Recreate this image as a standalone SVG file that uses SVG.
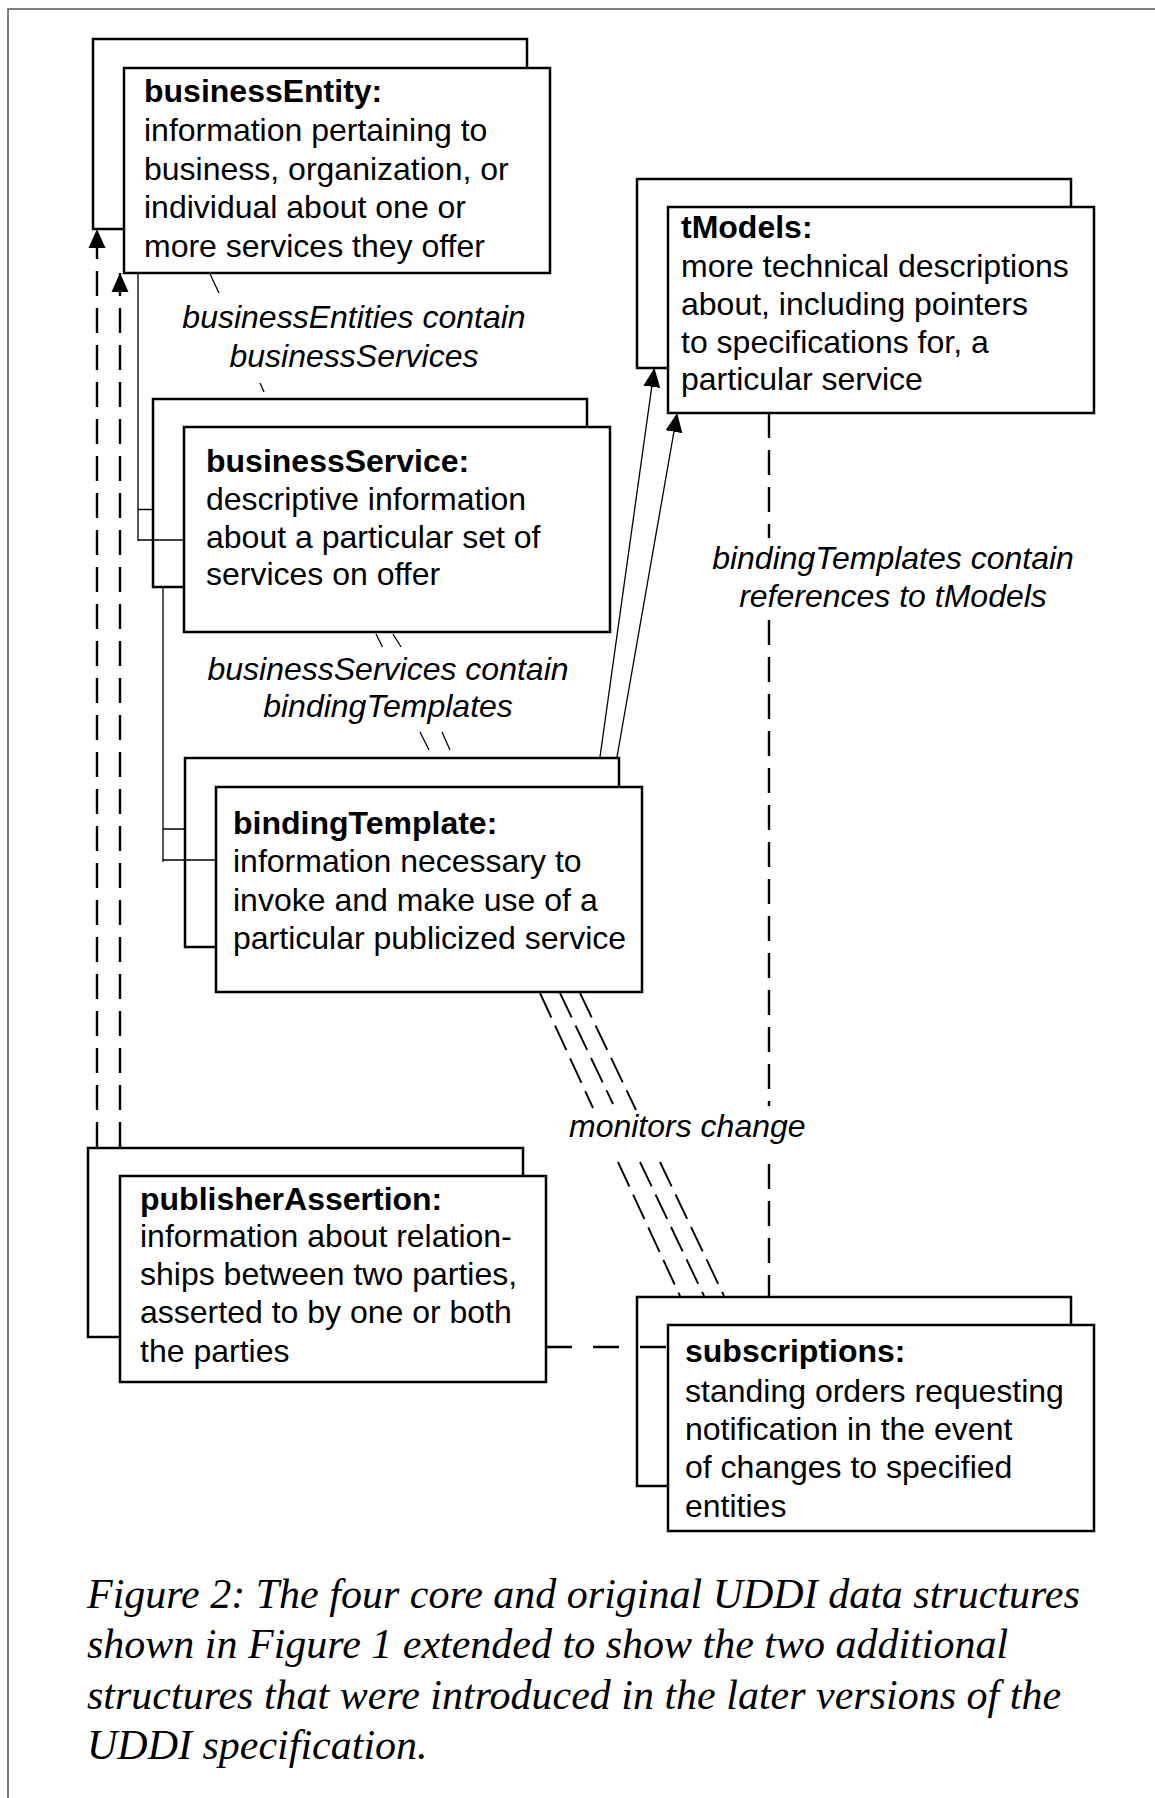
<svg xmlns="http://www.w3.org/2000/svg" width="1155" height="1798" viewBox="0 0 1155 1798">
<style>
.box{fill:#fff;stroke:#000;stroke-width:2.5}
.t{font-family:"Liberation Sans",Arial,sans-serif;font-size:32px;fill:#000}
.b{font-weight:bold}
.lbl{font-family:"Liberation Sans",Arial,sans-serif;font-size:32px;font-style:italic;fill:#000}
.cap{font-family:"Liberation Serif","Times New Roman",serif;font-size:42px;font-style:italic;fill:#000}
.thin{stroke:#000;stroke-width:1.3;fill:none}
.dash{stroke:#000;stroke-width:2.4;fill:none;stroke-dasharray:25 12}
.ddia{stroke:#000;stroke-width:1.9;fill:none;stroke-dasharray:27 9}
.dh{stroke:#000;stroke-width:2.4;fill:none;stroke-dasharray:26 21}
.frame{stroke:#555;stroke-width:1.5;fill:none}
</style>
<defs>
<marker id="arr" markerUnits="userSpaceOnUse" viewBox="0 -9 19 18" markerWidth="19" markerHeight="18" refX="19" refY="0" orient="auto">
<path d="M0,-8.5 L19,0 L0,8.5 z" fill="#000"/>
</marker>
</defs>
<rect width="1155" height="1798" fill="#fff"/>
<path class="frame" d="M8,1798 L8,9 L1155,9"/>

<g id="businessEntity">
<rect class="box" x="93" y="39" width="434" height="190"/>
<rect class="box" x="124" y="68" width="426" height="205"/>
<text class="t b" x="144" y="102">businessEntity:</text>
<text class="t" x="144" y="141">information pertaining to</text>
<text class="t" x="144" y="180">business, organization, or</text>
<text class="t" x="144" y="218">individual about one or</text>
<text class="t" x="144" y="257">more services they offer</text>
</g>

<g id="tModels">
<rect class="box" x="637" y="179" width="434" height="189"/>
<rect class="box" x="668" y="207" width="426" height="206"/>
<text class="t b" x="681" y="238">tModels:</text>
<text class="t" x="681" y="277">more technical descriptions</text>
<text class="t" x="681" y="315">about, including pointers</text>
<text class="t" x="681" y="353">to specifications for, a</text>
<text class="t" x="681" y="390">particular service</text>
</g>

<g id="businessService">
<rect class="box" x="153" y="399" width="434" height="188"/>
<rect class="box" x="184" y="427" width="426" height="205"/>
<text class="t b" x="206" y="472">businessService:</text>
<text class="t" x="206" y="510">descriptive information</text>
<text class="t" x="206" y="548">about a particular set of</text>
<text class="t" x="206" y="585">services on offer</text>
</g>

<g id="bindingTemplate">
<rect class="box" x="185" y="758" width="434" height="189"/>
<rect class="box" x="216" y="787" width="426" height="205"/>
<text class="t b" x="233" y="834">bindingTemplate:</text>
<text class="t" x="233" y="872">information necessary to</text>
<text class="t" x="233" y="911">invoke and make use of a</text>
<text class="t" x="233" y="949">particular publicized service</text>
</g>

<g id="publisherAssertion">
<rect class="box" x="88" y="1148" width="435" height="189"/>
<rect class="box" x="120" y="1176" width="426" height="206"/>
<text class="t b" x="140" y="1210">publisherAssertion:</text>
<text class="t" x="140" y="1247">information about relation-</text>
<text class="t" x="140" y="1285">ships between two parties,</text>
<text class="t" x="140" y="1323">asserted to by one or both</text>
<text class="t" x="140" y="1362">the parties</text>
</g>

<g id="subscriptions">
<rect class="box" x="637" y="1297" width="434" height="189"/>
<rect class="box" x="668" y="1325" width="426" height="206"/>
<text class="t b" x="685" y="1362">subscriptions:</text>
<text class="t" x="685" y="1402">standing orders requesting</text>
<text class="t" x="685" y="1440">notification in the event</text>
<text class="t" x="685" y="1478">of changes to specified</text>
<text class="t" x="685" y="1517">entities</text>
</g>

<g id="connectors">
<path class="thin" d="M138,273 L138,541 M138,509.5 L153,509.5 M138,540 L184,540"/>
<path class="thin" d="M163,587 L163,862 M163,829 L186,829 M163,860 L216,860"/>
<path class="thin" d="M210,274 L219,293 M260,383 L264,392 M376,634 L382.5,647 M393,634 L401,647 M420,732 L429,750 M442,732 L450,750"/>
<line class="thin" x1="600" y1="757" x2="654.4" y2="368" marker-end="url(#arr)"/>
<line class="thin" x1="617" y1="757" x2="677.2" y2="413" marker-end="url(#arr)"/>
<line class="dash" x1="97" y1="1147" x2="97" y2="229" marker-end="url(#arr)"/>
<line class="dash" x1="120" y1="1147" x2="120" y2="273" marker-end="url(#arr)"/>
<path class="dash" d="M769,413 L769,538 M769,620 L769,1106 M769,1164 L769,1297"/>
<path class="ddia" d="M540,993 L593,1108 M618,1162 L680,1296"/>
<path class="ddia" d="M560,993 L613,1104 M640,1162 L704,1296"/>
<path class="ddia" d="M580,993 L636,1110 M660,1162 L724,1296"/>
<line class="dh" x1="546" y1="1347" x2="668" y2="1347"/>
</g>

<g id="labels">
<text class="lbl" x="354" y="328" text-anchor="middle">businessEntities contain</text>
<text class="lbl" x="354" y="367" text-anchor="middle">businessServices</text>
<text class="lbl" x="388" y="680" text-anchor="middle">businessServices contain</text>
<text class="lbl" x="388" y="717" text-anchor="middle">bindingTemplates</text>
<text class="lbl" x="893" y="569" text-anchor="middle">bindingTemplates contain</text>
<text class="lbl" x="893" y="607" text-anchor="middle">references to tModels</text>
<text class="lbl" x="569" y="1137">monitors change</text>
</g>

<g id="caption">
<text class="cap" x="87" y="1608">Figure 2: The four core and original UDDI data structures</text>
<text class="cap" x="87" y="1658">shown in Figure 1 extended to show the two additional</text>
<text class="cap" x="87" y="1709">structures that were introduced in the later versions of the</text>
<text class="cap" x="87" y="1759">UDDI specification.</text>
</g>
</svg>
